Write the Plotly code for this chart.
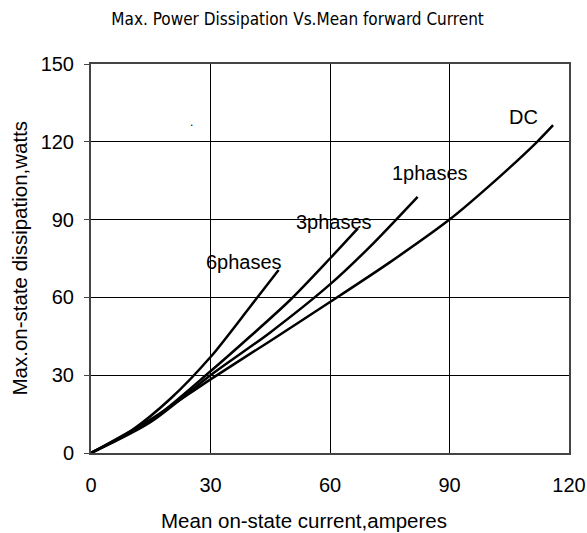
import plotly.graph_objects as go

# Data
dc_current = [0, 15, 30, 45, 60, 75, 90, 100, 112, 116]
dc_power = [0, 13, 28.4, 43.2, 58.2, 73.5, 90, 103, 120, 126.4]

ph1_current = [0, 15, 30, 45, 60, 70, 82]
ph1_power = [0, 12, 30, 46.5, 65, 79.5, 98.8]

ph3_current = [0, 15, 30, 40, 50, 60, 67]
ph3_power = [0, 12.5, 31.5, 45, 59, 75, 86.6]

ph6_current = [0, 10, 20, 30, 40, 47.1]
ph6_power = [0, 8.5, 21, 37, 56.5, 70.6]

series_names = ["DC", "1phases", "3phases", "6phases"]
label_x = [108.5, 85, 61.1, 38.5]
label_y = [129.6, 107.8, 89.1, 73.7]

x_ticks = [0, 30, 60, 90, 120]
y_ticks = [0, 30, 60, 90, 120, 150]

FONT = "Liberation Sans, Arial, sans-serif"

fig = go.Figure()
for xs, ys, name in [(dc_current, dc_power, "DC"), (ph1_current, ph1_power, "1phases"),
                     (ph3_current, ph3_power, "3phases"), (ph6_current, ph6_power, "6phases")]:
    fig.add_trace(go.Scatter(x=xs, y=ys, mode="lines", name=name,
                             line=dict(color="black", width=2.5, shape="spline", smoothing=0.8),
                             showlegend=False, hoverinfo="skip"))

for name, lx, ly in zip(series_names, label_x, label_y):
    fig.add_annotation(x=lx, y=ly, text=name, showarrow=False,
                       font=dict(family=FONT, size=20, color="black"))

fig.add_annotation(x=25.2, y=127.5, text=".", showarrow=False,
                   font=dict(family=FONT, size=12, color="black"))

# axis titles
fig.add_annotation(xref="paper", yref="paper", x=0.446, y=-0.173, xanchor="center", yanchor="middle",
                   text="Mean on-state current,amperes", showarrow=False,
                   font=dict(family=FONT, size=20.5, color="black"))
fig.add_annotation(xref="paper", yref="paper", x=-0.1506, y=0.5, xanchor="center", yanchor="middle",
                   text="Max.on-state dissipation,watts", textangle=-90, showarrow=False,
                   font=dict(family=FONT, size=20.5, color="black"))

axis_font = dict(family=FONT, size=20, color="black")
fig.update_layout(
    width=587, height=533,
    margin=dict(l=91, r=18, t=64, b=80, autoexpand=False),
    paper_bgcolor="white", plot_bgcolor="white",
    title=dict(text="Max. Power Dissipation Vs.Mean forward Current",
               x=0.507, xanchor="center", yref="container", y=0.964, yanchor="middle",
               font=dict(family="Liberation Sans Narrow, DejaVu Sans Condensed, sans-serif",
                         size=17, color="black")),
    xaxis=dict(range=[0, 120], tickvals=x_ticks, showgrid=True, gridcolor="black", gridwidth=1,
               showline=True, linecolor="#444", linewidth=2, mirror=True, zeroline=False,
               ticks="", tickfont=axis_font, ticklabelstandoff=13),
    yaxis=dict(range=[0, 150], tickvals=y_ticks, showgrid=True, gridcolor="black", gridwidth=1,
               showline=True, linecolor="#444", linewidth=2, mirror=True, zeroline=False,
               ticks="outside", ticklen=5, tickcolor="#444", tickfont=axis_font,
               ticklabelstandoff=6),
)

fig.write_html("out.html", config={"displayModeBar": False},
               post_script="document.body.style.margin='0px';document.body.style.overflow='hidden';")
